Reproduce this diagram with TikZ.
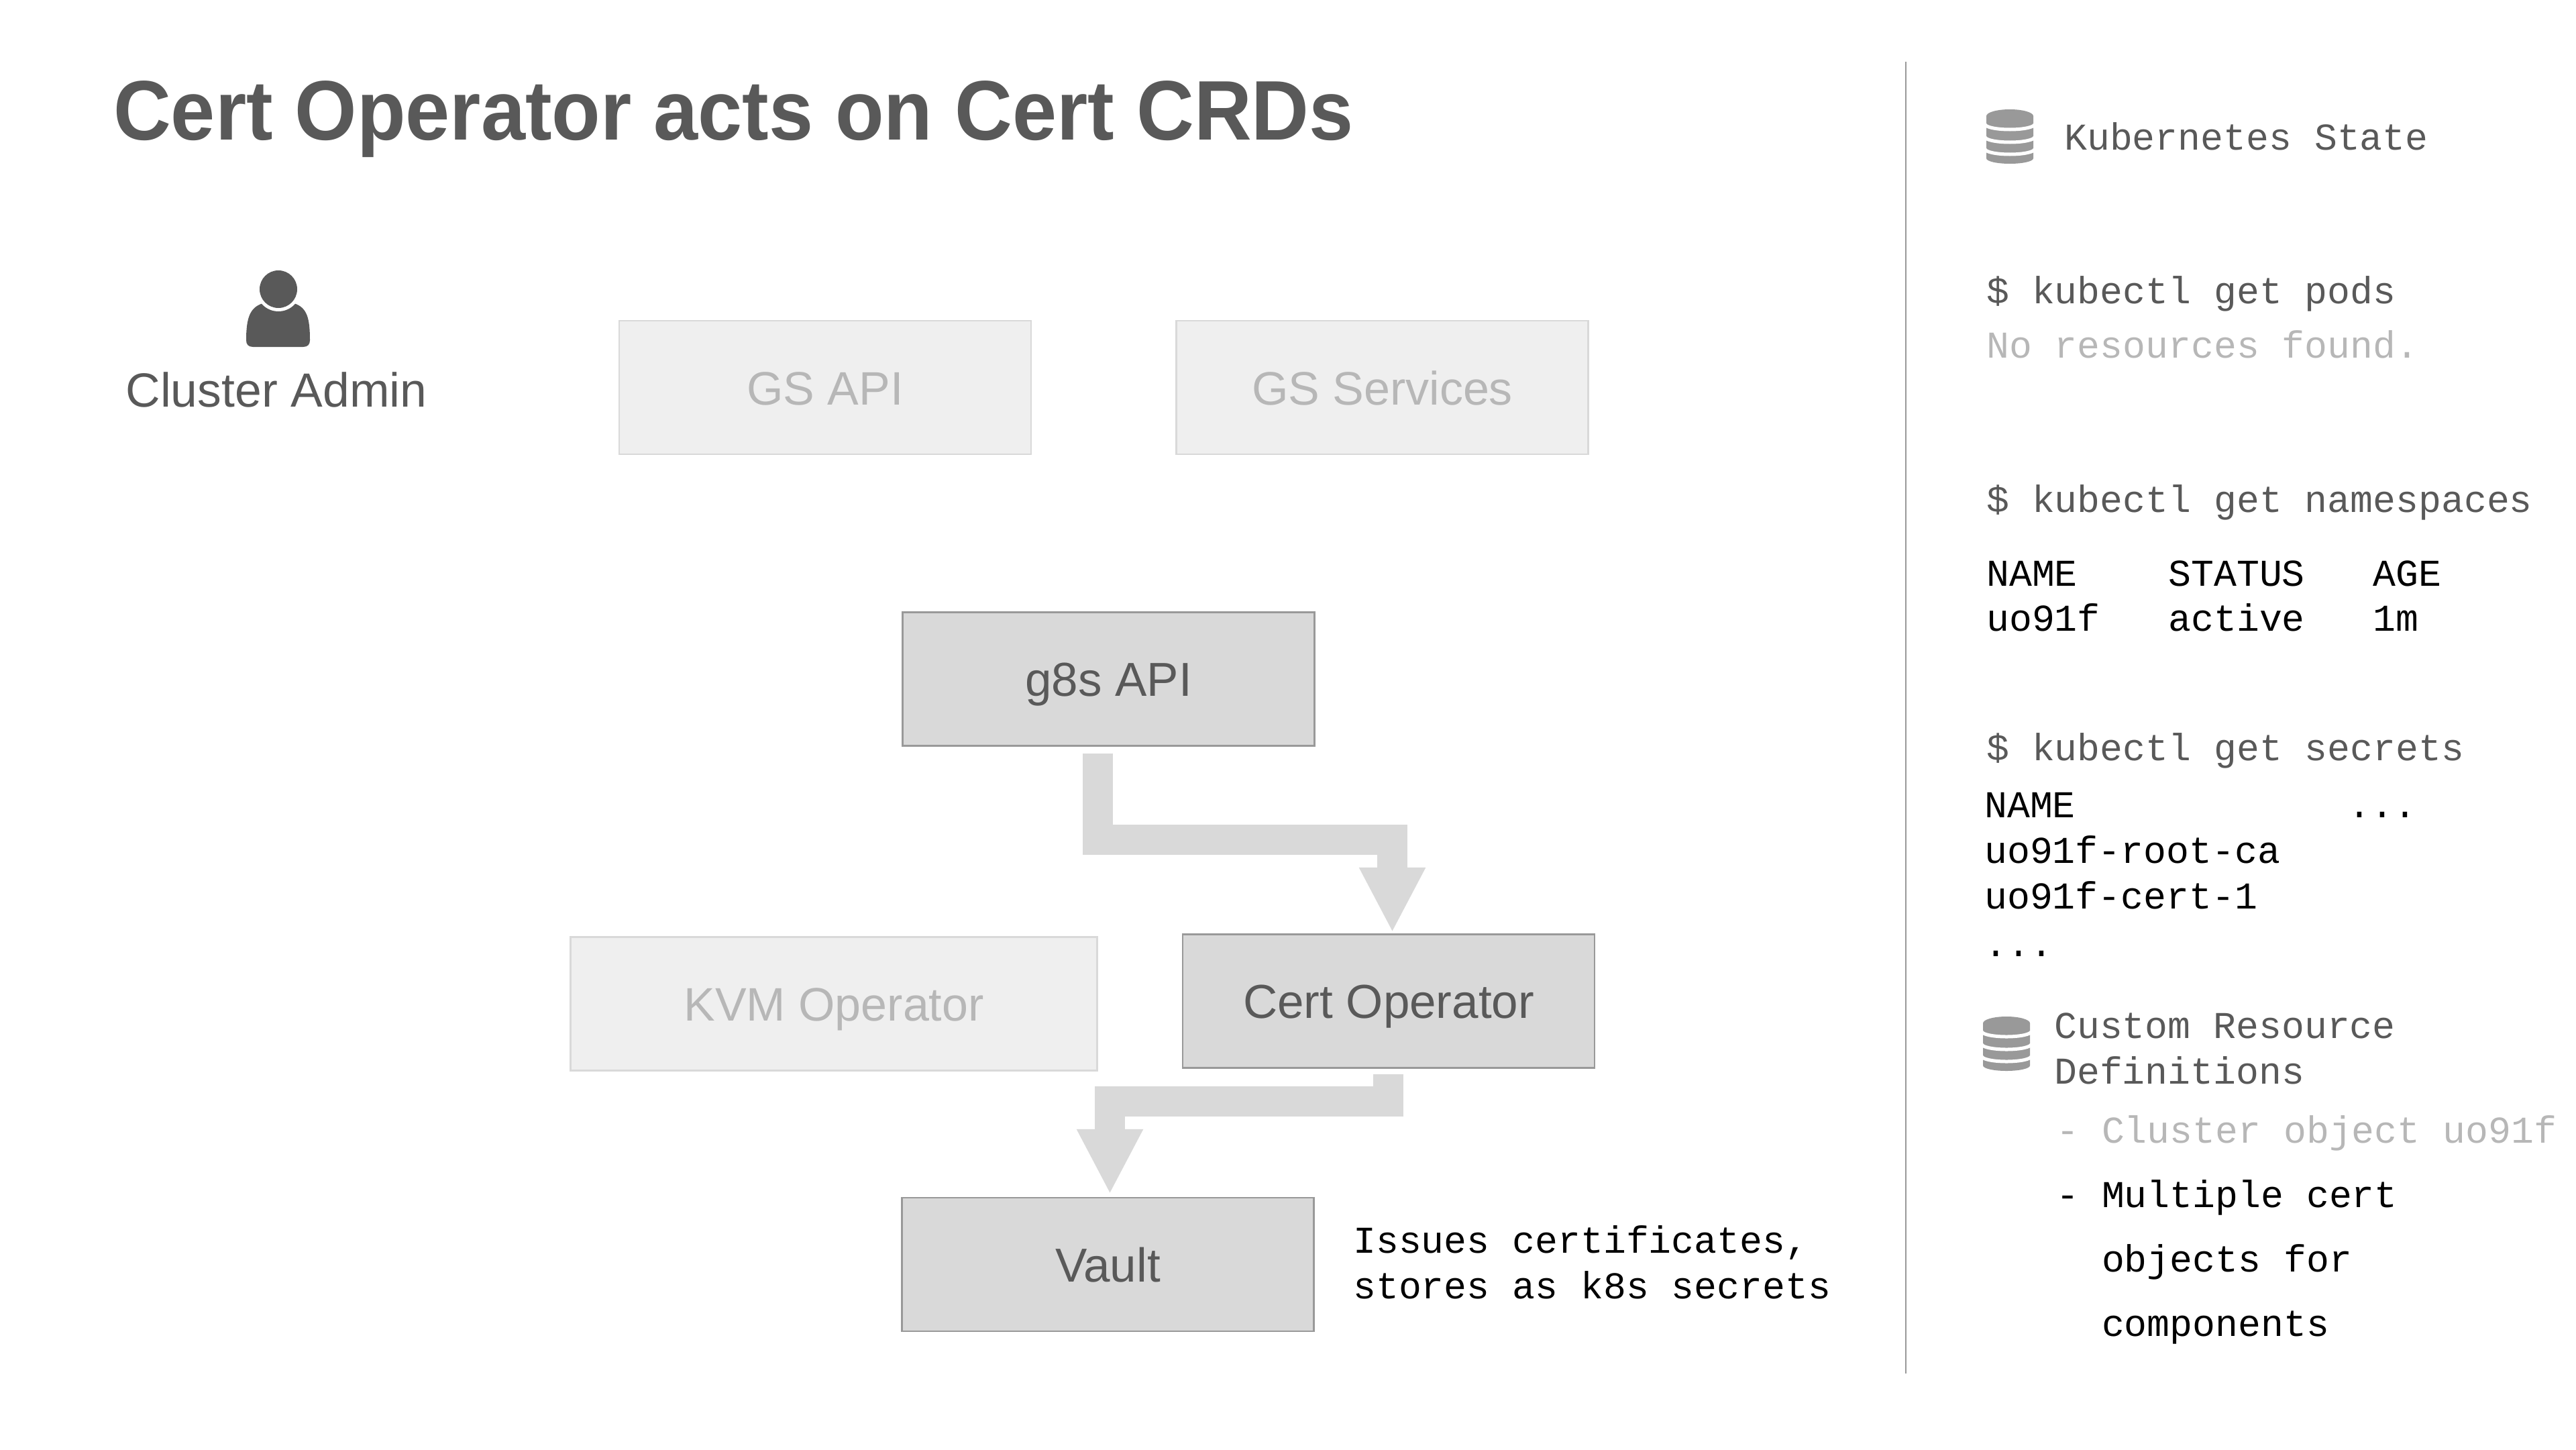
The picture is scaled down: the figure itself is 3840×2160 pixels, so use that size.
\documentclass[tikz,border=0pt]{standalone}
\usepackage{fontspec}
\setmainfont{Liberation Sans}
\setmonofont{Liberation Mono}
\newfontfamily\titlefont[FakeStretch=0.943]{Liberation Sans}
\usetikzlibrary{arrows.meta}
\definecolor{inktext}{HTML}{595959}
\definecolor{fadedtext}{HTML}{B7B7B7}
\definecolor{activefill}{HTML}{D9D9D9}
\definecolor{idlefill}{HTML}{EFEFEF}
\definecolor{activeline}{HTML}{999999}
\tikzset{
  activebox/.style={draw=activeline, fill=activefill, line width=2.5pt, text=inktext, minimum width=614pt, minimum height=199pt, font=\fontsize{71}{76}\selectfont, text height=51pt, text depth=0pt},
  idlebox/.style={draw=activefill, fill=idlefill, line width=2.5pt, text=fadedtext, minimum width=614pt, minimum height=199pt, font=\fontsize{70}{76}\selectfont, text height=51pt, text depth=0pt},
  codeline/.style={anchor=base west, inner sep=0pt, font=\fontsize{56.5}{60}\selectfont\ttfamily},
  flow/.style={draw=activefill, line width=45pt, -{Triangle[width=92pt, length=97pt]}},
  dbicon/.pic={
    \fill[activeline] (0,10) arc[start angle=180, end angle=360, x radius=35, y radius=10] -- (70,73) arc[start angle=0, end angle=180, x radius=35, y radius=8] -- cycle;
    \draw[white, line width=5pt] (-2,22) arc[start angle=180, end angle=0, x radius=37, y radius=8];
    \draw[white, line width=5pt] (-2,41) arc[start angle=180, end angle=0, x radius=37, y radius=8];
    \draw[white, line width=5pt] (-2,59) arc[start angle=180, end angle=0, x radius=37, y radius=8];
  }
}
\begin{document}
\begin{tikzpicture}[x=1pt, y=-1pt]
\useasboundingbox (0,0) rectangle (3840,2160);
\node[anchor=base west, inner sep=0pt, text=inktext, font=\fontsize{126}{130}\titlefont\bfseries] (title) at (169,208) {Cert Operator acts on Cert CRDs};

\fill[inktext] (377,517) -- (452,517) .. controls (459,517) and (462,513) .. (462,507) .. controls (462,475) and (458,458) .. (438,452) -- (392,452) .. controls (372,458) and (367,475) .. (367,507) .. controls (367,513) and (370,517) .. (377,517) -- cycle;
\fill[white] (415,431) circle[radius=33];
\fill[inktext] (415,431) circle[radius=28];
\node[anchor=base, inner sep=0pt, text=inktext, font=\fontsize{71.5}{76}\selectfont] (admin) at (412,606) {Cluster Admin};

\node[idlebox] (gsapi) at (1230,577.5) {GS API};
\node[idlebox] (gsservices) at (2060.5,577.5) {GS Services};
\node[activebox] (gapi) at (1652.5,1012) {g8s API};
\node[idlebox, minimum width=785pt] (kvm) at (1243,1496) {KVM Operator};
\node[activebox] (certop) at (2070,1492) {Cert Operator};
\node[activebox] (vault) at (1651.5,1884.5) {Vault};

\draw[flow] ([xshift=-16.5pt, yshift=-10pt]gapi.south) -- ++(0,129) -| ([xshift=5.5pt, yshift=1.5pt]certop.north);
\draw[flow] ([xshift=-1pt, yshift=-8.5pt]certop.south) -- ++(0,40.5) -| ([xshift=3pt, yshift=4pt]vault.north);

\node[codeline] (issues) at (2017,1867) {Issues certificates,};
\node[codeline] (stores) at (2017,1935.5) {stores as k8s secrets};

\draw[activeline, line width=2.5pt] (2841,92) coordinate (ruletop) -- (2841,2047) coordinate (rulebottom);

\pic at (2961,163) {dbicon};
\node[codeline, text=inktext] (kstate) at (3077,223) {Kubernetes State};
\node[codeline, text=inktext] (pods) at (2961,452) {\$ kubectl get pods};
\node[codeline, text=fadedtext] (nores) at (2961,533) {No resources found.};
\node[codeline, text=inktext] (ns) at (2961,763) {\$ kubectl get namespaces};
\node[codeline] (nshead) at (2961,873) {NAME\ \ \ \ STATUS\ \ \ AGE};
\node[codeline] (nsrow) at (2961,940) {uo91f\ \ \ active\ \ \ 1m};
\node[codeline, text=inktext] (secrets) at (2961,1133) {\$ kubectl get secrets};
\node[codeline] (sechead) at (2958,1218) {NAME\ \ \ \ \ \ \ \ \ \ \ \ ...};
\node[codeline] (secroot) at (2958,1286) {uo91f-root-ca};
\node[codeline] (seccert) at (2958,1354) {uo91f-cert-1};
\node[codeline] (secmore) at (2958,1425) {...};

\pic at (2956,1515) {dbicon};
\node[codeline, text=inktext] (crdone) at (3062,1547) {Custom Resource};
\node[codeline, text=inktext] (crdtwo) at (3062,1615) {Definitions};
\node[codeline, text=fadedtext] (clusterobj) at (3065,1703) {- Cluster object uo91f};
\node[codeline] (multi) at (3065,1799) {- Multiple cert};
\node[codeline] (objects) at (3065,1895) {\ \ objects for};
\node[codeline] (comps) at (3065,1991) {\ \ components};
\end{tikzpicture}
\end{document}
